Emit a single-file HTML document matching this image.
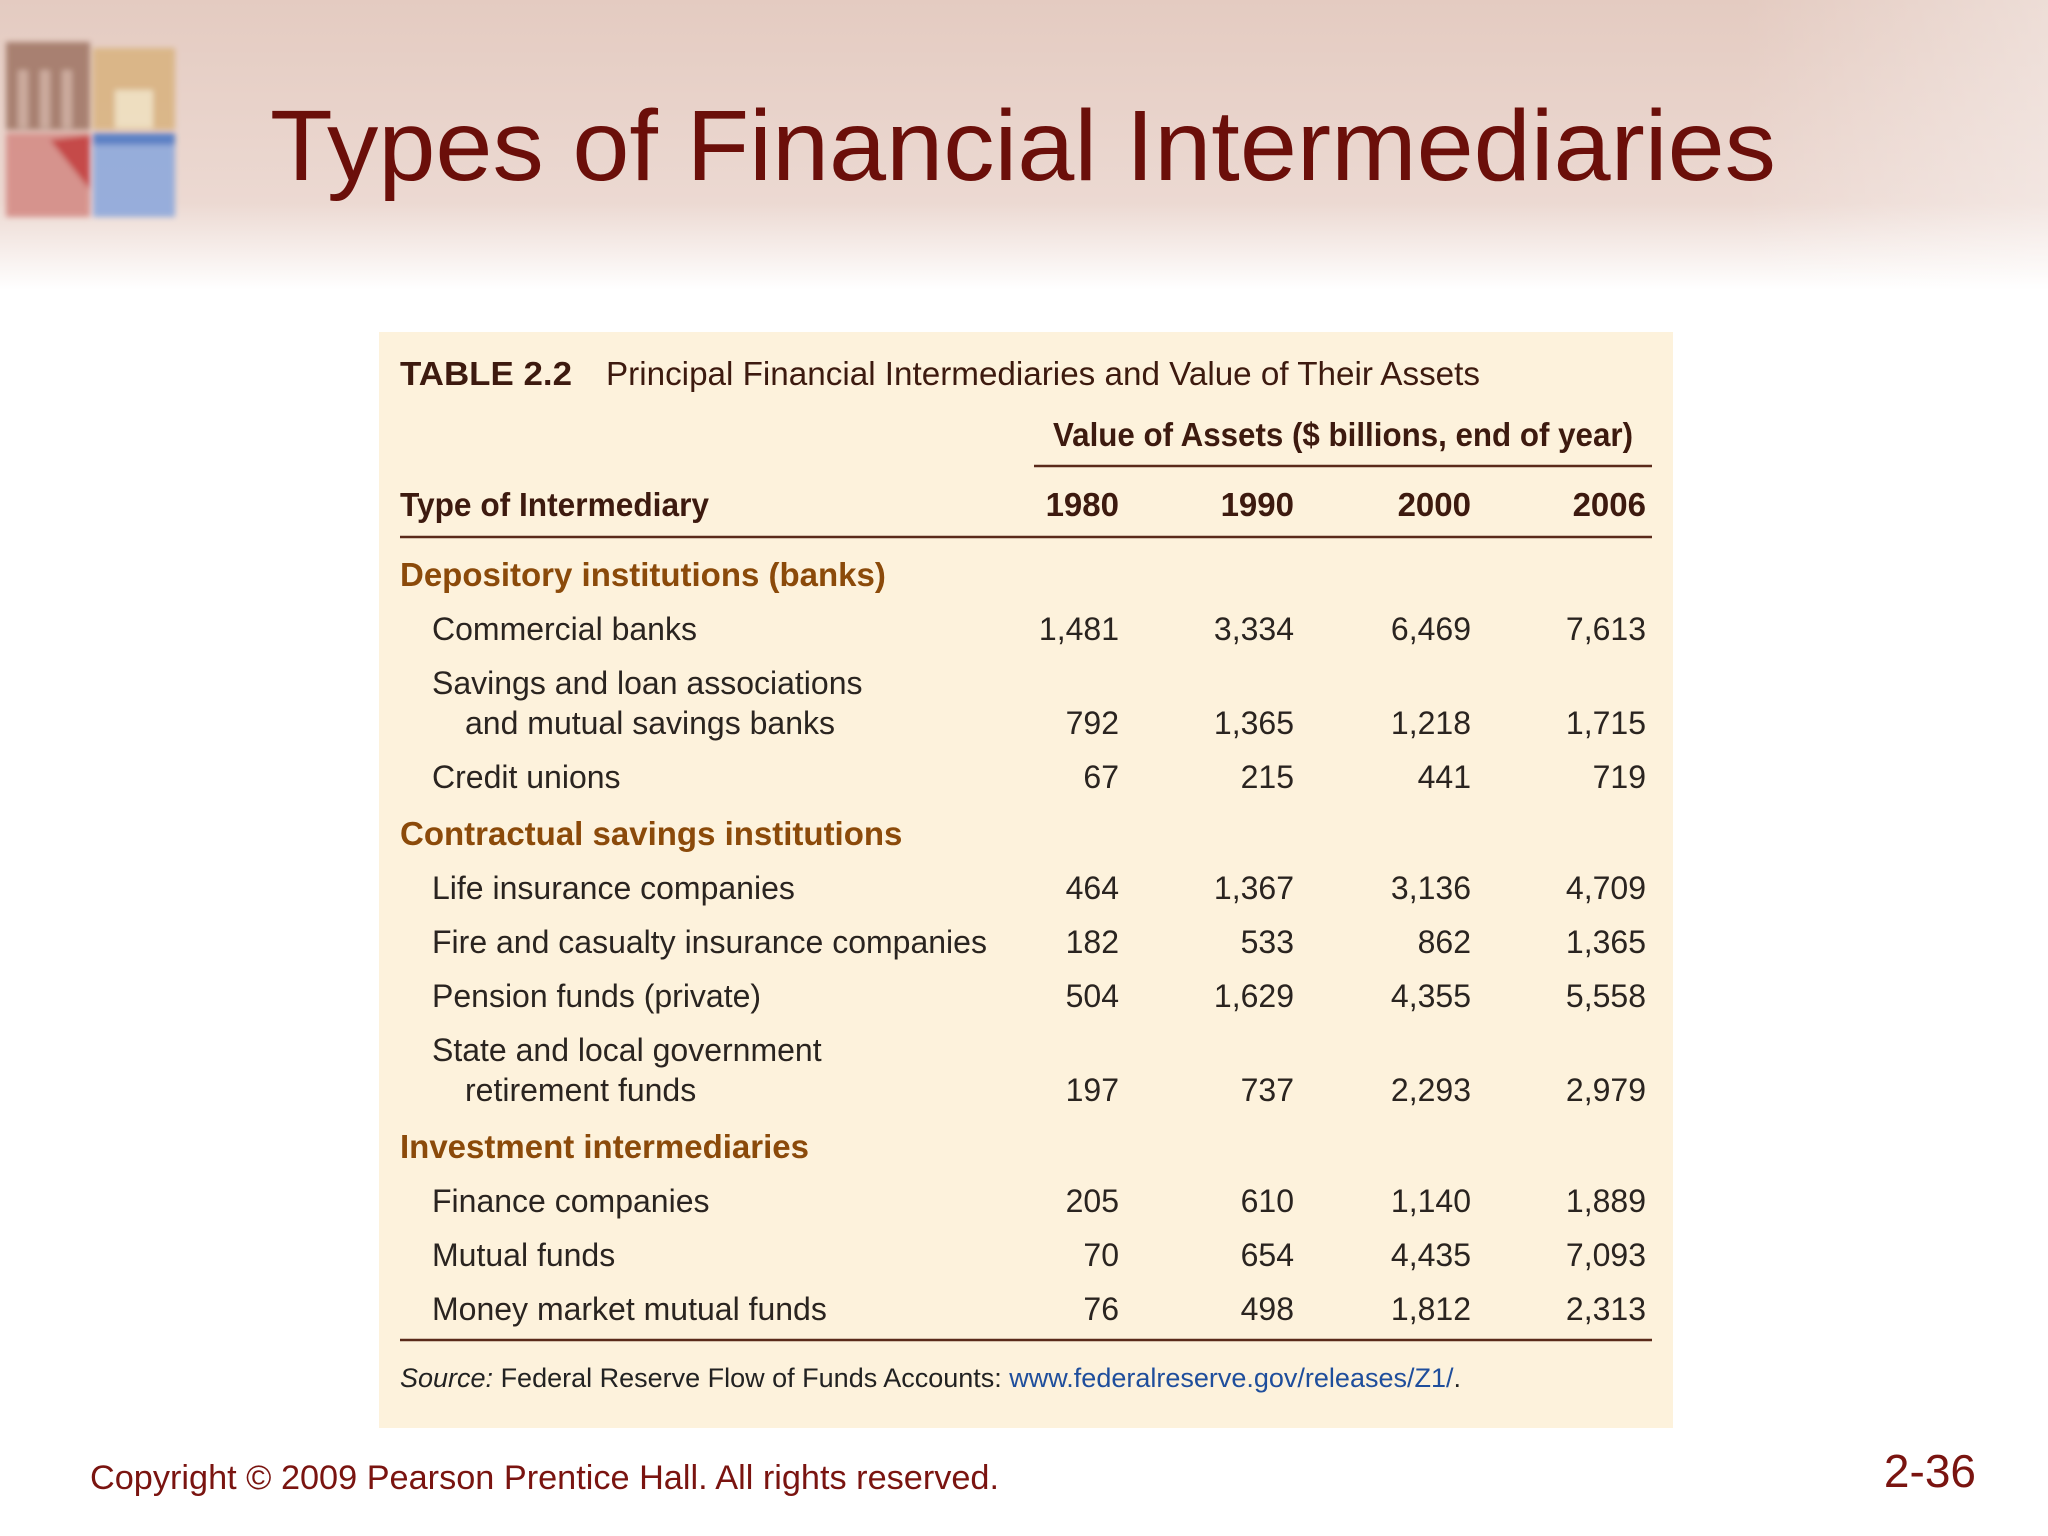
<!DOCTYPE html>
<html><head><meta charset="utf-8"><style>
html,body{margin:0;padding:0;background:#fff}
svg{display:block}
text{font-family:"Liberation Sans",sans-serif}
</style></head><body>
<svg id="slide" width="2048" height="1536" viewBox="0 0 2048 1536" xmlns="http://www.w3.org/2000/svg">
<defs>
<linearGradient id="hdr" x1="0" y1="0" x2="0" y2="1">
<stop offset="0" stop-color="#e4cbc1"/><stop offset="0.7" stop-color="#ecd9d2"/><stop offset="1" stop-color="#ffffff"/>
</linearGradient>
<linearGradient id="hdrx" x1="0" y1="0" x2="1" y2="0">
<stop offset="0" stop-color="#fff" stop-opacity="0"/><stop offset="0.85" stop-color="#fff" stop-opacity="0"/><stop offset="1" stop-color="#fff" stop-opacity="0.35"/>
</linearGradient>
<filter id="bl"><feGaussianBlur stdDeviation="3"/></filter>
</defs>
<rect x="0" y="0" width="2048" height="290" fill="url(#hdr)"/>
<rect x="0" y="0" width="2048" height="290" fill="url(#hdrx)"/>
<g filter="url(#bl)" opacity="0.9">
<rect x="6" y="42" width="84" height="88" fill="#a27868"/>
<rect x="18" y="70" width="10" height="58" fill="#c9a79a"/><rect x="40" y="70" width="10" height="58" fill="#c9a79a"/><rect x="62" y="70" width="10" height="58" fill="#c9a79a"/>
<rect x="93" y="48" width="82" height="82" fill="#d9b482"/>
<rect x="115" y="90" width="38" height="38" fill="#efe0c0"/>
<rect x="6" y="133" width="84" height="84" fill="#d48c86"/>
<polygon points="50,140 90,135 90,190" fill="#c23b3b"/>
<rect x="93" y="133" width="82" height="84" fill="#8ea9dc"/>
<rect x="93" y="133" width="82" height="12" fill="#4e78c4"/>
</g>
<text x="270" y="180" font-size="100" fill="#6b0f0a" textLength="1506" lengthAdjust="spacingAndGlyphs">Types of Financial Intermediaries</text>
<rect x="379" y="332" width="1294" height="1096" fill="#fdf2dc"/>
<text x="400" y="385" font-size="33" font-weight="bold" fill="#3d1a0f" textLength="172" lengthAdjust="spacingAndGlyphs">TABLE 2.2</text>
<text x="606" y="385" font-size="33" fill="#3d1a0f" textLength="874" lengthAdjust="spacingAndGlyphs">Principal Financial Intermediaries and Value of Their Assets</text>
<text x="1053" y="446" font-size="33" font-weight="bold" fill="#3d1a0f" textLength="580" lengthAdjust="spacingAndGlyphs">Value of Assets ($ billions, end of year)</text>
<line x1="1034" y1="466" x2="1652" y2="466" stroke="#5a2a1a" stroke-width="2.5"/>
<text x="400" y="516" font-size="33" font-weight="bold" fill="#3d1a0f" textLength="309" lengthAdjust="spacingAndGlyphs">Type of Intermediary</text>
<g id="years"></g>
<line x1="400" y1="537" x2="1652" y2="537" stroke="#5a2a1a" stroke-width="2.5"/>
<g id="rows"></g>
<line x1="400" y1="1340" x2="1652" y2="1340" stroke="#5a2a1a" stroke-width="2.5"/>
<text x="400" y="1387" font-size="27" fill="#222"><tspan font-style="italic">Source:</tspan> Federal Reserve Flow of Funds Accounts: <tspan fill="#1f4e9c">www.federalreserve.gov/releases/Z1/</tspan>.</text>
<text x="90" y="1489" font-size="34" fill="#7a1410" textLength="909" lengthAdjust="spacingAndGlyphs">Copyright © 2009 Pearson Prentice Hall. All rights reserved.</text>
<text x="1976" y="1487" font-size="46" fill="#7a1410" text-anchor="end">2-36</text>
</svg>
<script>
const years = ["1980","1990","2000","2006"];
const labels = ["Commercial banks","Savings and loan associations|and mutual savings banks","Credit unions","Life insurance companies","Fire and casualty insurance companies","Pension funds (private)","State and local government|retirement funds","Finance companies","Mutual funds","Money market mutual funds"];
const v1980 = [1481,792,67,464,182,504,197,205,70,76];
const v1990 = [3334,1365,215,1367,533,1629,737,610,654,498];
const v2000 = [6469,1218,441,3136,862,4355,2293,1140,4435,1812];
const v2006 = [7613,1715,719,4709,1365,5558,2979,1889,7093,2313];
const sections = ["Depository institutions (banks)","Contractual savings institutions","Investment intermediaries"];
const sectionStart = [0,3,7];
const NS = "http://www.w3.org/2000/svg";
const colX = [1119,1294,1471,1646];
function mk(tag, attrs, txt){const e=document.createElementNS(NS,tag);for(const k in attrs)e.setAttribute(k,attrs[k]);if(txt!==undefined)e.textContent=txt;return e;}
const yg=document.getElementById('years');
years.forEach((y,i)=>{
  const t=mk('text',{x:colX[i],y:516,'font-size':33,'font-weight':'bold',fill:'#3d1a0f','text-anchor':'end'},y);
  
  
  yg.appendChild(t);
});
const rg=document.getElementById('rows');
const series=[v1980,v1990,v2000,v2006];
let y=574;
labels.forEach((lab,i)=>{
  const s=sectionStart.indexOf(i);
  if(s>=0){
    if(s>0) y+=2;
    const h=mk('text',{x:400,y:y+12,'font-size':33,'font-weight':'bold',fill:'#8b4a0a'},sections[s]);
    
    
    rg.appendChild(h);
    y+=55;
  }
  const parts=lab.split('|');
  const t=mk('text',{x:432,y:y+11,'font-size':32,fill:'#2a2420'},parts[0]);
  
  
  rg.appendChild(t);
  if(parts.length>1){
    y+=40;
    const t2=mk('text',{x:465,y:y+11,'font-size':32,fill:'#2a2420'},parts[1]);
    
    
    rg.appendChild(t2);
  }
  series.forEach((arr,c)=>{
    const v=mk('text',{x:colX[c],y:y+11,'font-size':32,fill:'#2a2420','text-anchor':'end'},arr[i].toLocaleString('en-US'));
    
    
    rg.appendChild(v);
  });
  y+=54;
});
</script>
</body></html>
